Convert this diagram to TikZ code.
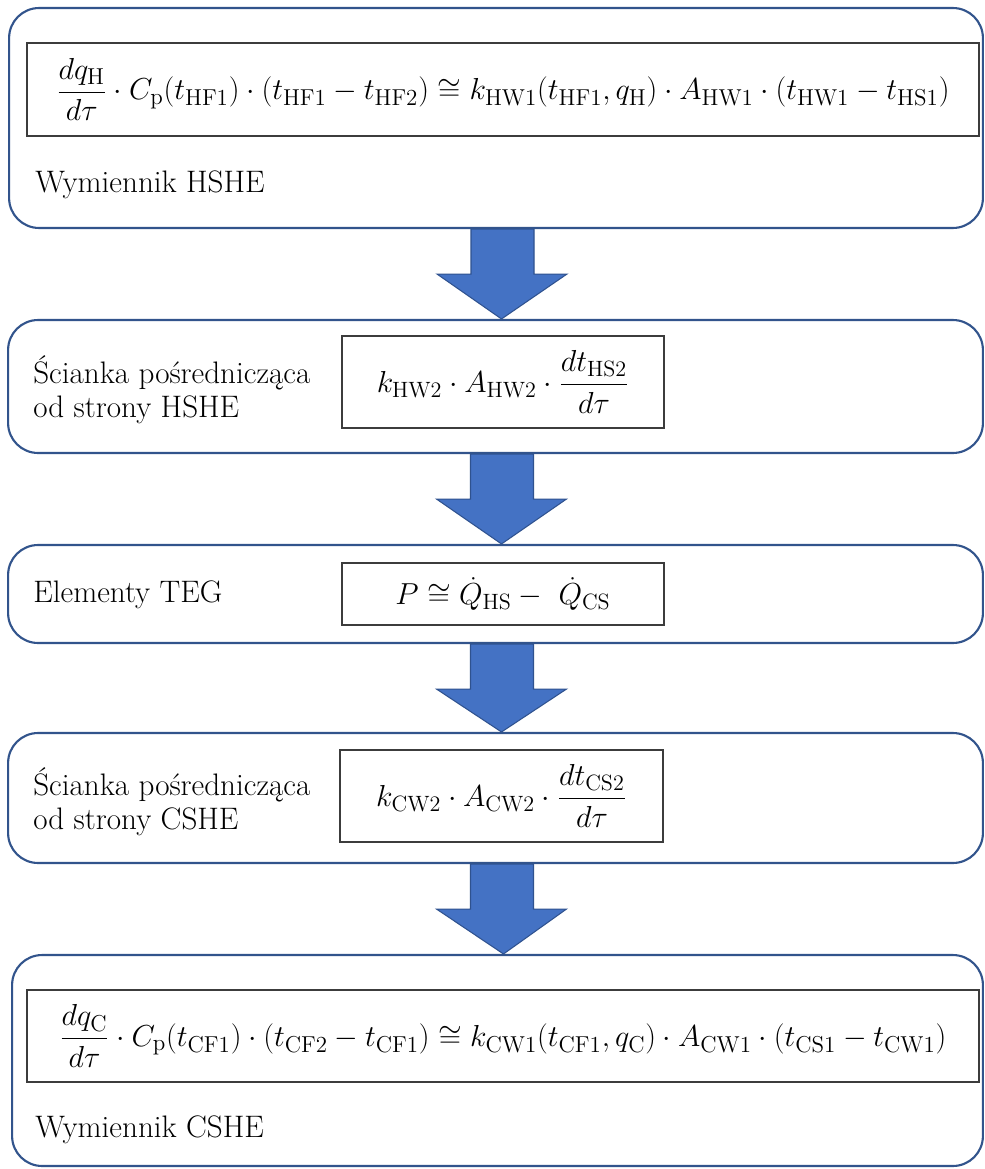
\documentclass[tikz,border=0pt]{standalone}
\usepackage{fontspec}
\usetikzlibrary{calc}

\definecolor{stageblue}{RGB}{50,84,140}
\definecolor{flowfill}{RGB}{68,114,196}
\definecolor{flowline}{RGB}{47,82,143}
\definecolor{formulagray}{RGB}{60,60,60}

\tikzstyle{stage} = [rectangle, rounded corners=0.6cm, draw=stageblue, line width=1.2pt, inner sep=0pt]
\tikzstyle{formula} = [rectangle, draw=formulagray, line width=0.8pt, inner sep=0pt, font=\fontsize{18.7}{21}\selectfont]
\tikzstyle{caption} = [inner sep=0pt, align=left, font=\fontsize{17.7}{19.4}\selectfont]
\tikzstyle{flow} = [fill=flowfill, draw=flowline, line width=0.6pt]

\begin{document}
\begin{tikzpicture}[x=0.02cm, y=-0.02cm]
    \fill[white] (0,0) rectangle (984,1169);
    % Stages
    \node[stage, minimum width=19.48cm, minimum height=4.4cm] (b1) at (496,118) {};
    \node[stage, minimum width=19.5cm, minimum height=2.66cm] (b2) at (495.5,386.5) {};
    \node[stage, minimum width=19.5cm, minimum height=1.96cm] (b3) at (495.5,594) {};
    \node[stage, minimum width=19.5cm, minimum height=2.6cm] (b4) at (495.5,798) {};
    \node[stage, minimum width=19.42cm, minimum height=4.22cm] (b5) at (497.5,1060.5) {};
    % Formulas
    \node[formula, minimum width=19.04cm, minimum height=1.86cm] (e1) at (503,89.5)
      {$\displaystyle \frac{dq_{\mathrm{H}}}{d\tau}\cdot C_{\mathrm{p}}(t_{\mathrm{HF1}})\cdot(t_{\mathrm{HF1}}-t_{\mathrm{HF2}})\cong k_{\mathrm{HW1}}(t_{\mathrm{HF1}},q_{\mathrm{H}})\cdot A_{\mathrm{HW1}}\cdot(t_{\mathrm{HW1}}-t_{\mathrm{HS1}})$};
    \node[formula, minimum width=6.44cm, minimum height=1.84cm, font=\fontsize{18}{21}\selectfont] (e2) at (503,382)
      {$\displaystyle k_{\mathrm{HW2}}\cdot A_{\mathrm{HW2}}\cdot\frac{dt_{\mathrm{HS2}}}{d\tau}$};
    \node[formula, minimum width=6.44cm, minimum height=1.24cm, font=\fontsize{18}{21}\selectfont] (e3) at (503,594)
      {$P\cong\dot{Q}_{\mathrm{HS}}-\ \dot{Q}_{\mathrm{CS}}$};
    \node[formula, minimum width=6.46cm, minimum height=1.84cm, font=\fontsize{18}{21}\selectfont] (e4) at (501.5,796)
      {$\displaystyle k_{\mathrm{CW2}}\cdot A_{\mathrm{CW2}}\cdot\frac{dt_{\mathrm{CS2}}}{d\tau}$};
    \node[formula, minimum width=19.04cm, minimum height=1.84cm] (e5) at (503,1036)
      {$\displaystyle \frac{dq_{\mathrm{C}}}{d\tau}\cdot C_{\mathrm{p}}(t_{\mathrm{CF1}})\cdot(t_{\mathrm{CF2}}-t_{\mathrm{CF1}})\cong k_{\mathrm{CW1}}(t_{\mathrm{CF1}},q_{\mathrm{C}})\cdot A_{\mathrm{CW1}}\cdot(t_{\mathrm{CS1}}-t_{\mathrm{CW1}})$};
    % Captions
    \node[caption, anchor=base west] (c1) at (35,193) {Wymiennik HSHE};
    \node[caption, anchor=west] (c2) at (33,390) {Ścianka pośrednicząca\\od strony HSHE};
    \node[caption, anchor=base west] (c3) at (33,602) {Elementy TEG};
    \node[caption, anchor=west] (c4) at (33,802) {Ścianka pośrednicząca\\od strony CSHE};
    \node[caption, anchor=base west] (c5) at (35,1137) {Wymiennik CSHE};
    % Arrows
    \foreach \a/\b in {b1/b2, b2/b3, b3/b4, b4/b5} {
      \draw[flow] ($(\a.south)+(-25,0)$) -- ($(\a.south)+(-25,45)$) -- ($(\a.south)+(-59,45)$)
        -- ($(\b.north)+(6,0)$) -- ($(\a.south)+(71,45)$) -- ($(\a.south)+(38,45)$)
        -- ($(\a.south)+(38,0)$) -- cycle;
    }
\end{tikzpicture}
\end{document}
